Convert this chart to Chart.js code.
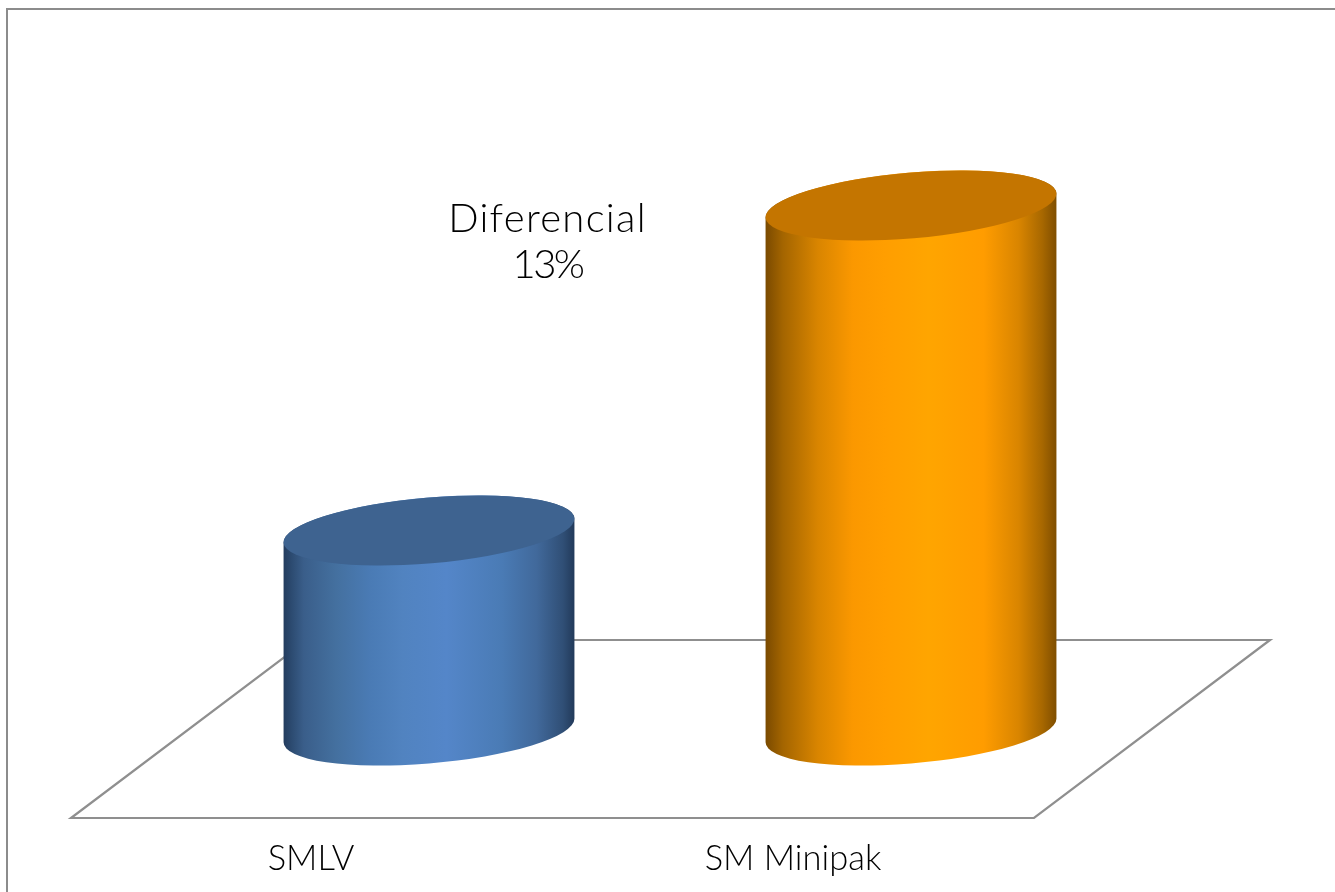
<!DOCTYPE html>
<html>
<head>
<meta charset="utf-8">
<style>
html,body{margin:0;padding:0;background:#fff;overflow:hidden;width:1335px;height:892px}
#frame{position:absolute;left:6px;top:8px;width:1327px;height:900px;border:2px solid #8c8c8c;box-sizing:content-box}
#wrap{position:absolute;left:0;top:0;width:1335px;height:892px}
</style>
<script src="https://cdn.jsdelivr.net/npm/chart.js@4"></script>
</head>
<body>
<div id="frame"></div>
<div id="wrap"><canvas id="c" width="1335" height="892"></canvas></div>
<script>
const categories = ["SMLV", "SM Minipak"];
const seriesValues = [100, 113];
const axisMin = 92;
const axisMax = 116;
const baseColors = ["#4f81bd", "#ff9c00"];
const topColors = ["#3e6390", "#c47500"];
const noteLines = ["Diferencial", "13%"];
const noteSpacing = ["1.3px", "-2.5px"];

const stops = [
  [[0,"#233c5e"],[0.03,"#2d4c72"],[0.07,"#3a5e8a"],[0.18,"#44709f"],[0.3,"#4a7bb5"],[0.41,"#5183c0"],[0.56,"#5486c9"],[0.75,"#4a7bb5"],[0.87,"#41699b"],[0.96,"#304f76"],[1,"#223a5a"]],
  [[0,"#7a4a00"],[0.06,"#a46500"],[0.18,"#d98500"],[0.3,"#fb9800"],[0.41,"#ff9e00"],[0.56,"#ffa500"],[0.75,"#ff9c00"],[0.87,"#d98500"],[0.95,"#a86800"],[1,"#7f4e00"]]
];
const FONT = "Lato";
const tilt = -4.9 * Math.PI / 180;

const cylinders = {
  id: "cylinders",
  beforeDatasetsDraw(chart) {
    const ctx = chart.ctx, base = chart.scales.y.getPixelForValue(axisMin);
    ctx.save();
    ctx.strokeStyle = "#8f8f8f"; ctx.lineWidth = 2.2; ctx.lineJoin = "miter";
    ctx.beginPath();
    ctx.moveTo(71, base + 87.5);
    ctx.lineTo(1034, base + 87.5);
    ctx.lineTo(1270, base - 90.5);
    ctx.lineTo(307, base - 90.5);
    ctx.closePath();
    ctx.stroke();
    ctx.restore();
  },
  beforeDatasetDraw(chart, args) {
    const ctx = chart.ctx;
    args.meta.data.forEach((el, i) => {
      const hw = el.width / 2, a = hw * 1.003, b = hw * 0.226;
      const t0 = Math.atan2(-b * Math.sin(tilt), a * Math.cos(tilt));
      const g = ctx.createLinearGradient(el.x - hw, 0, el.x + hw, 0);
      stops[i].forEach(s => g.addColorStop(s[0], s[1]));
      ctx.save();
      ctx.beginPath();
      ctx.ellipse(el.x, el.base, a, b, tilt, t0, t0 + Math.PI, false);
      ctx.ellipse(el.x, el.y, a, b, tilt, t0 + Math.PI, t0 + 2 * Math.PI, false);
      ctx.closePath();
      ctx.fillStyle = g;
      ctx.fill();
      ctx.beginPath();
      ctx.ellipse(el.x, el.y, a, b, tilt, 0, 2 * Math.PI);
      ctx.fillStyle = topColors[i];
      ctx.fill();
      ctx.restore();
    });
    return false;
  },
  afterDraw(chart) {
    const ctx = chart.ctx;
    ctx.save();
    ctx.font = "300 40px " + FONT;
    ctx.fillStyle = "#000";
    ctx.textAlign = "center";
    ctx.textBaseline = "alphabetic";
    noteLines.forEach((t, i) => {
      ctx.letterSpacing = noteSpacing[i];
      ctx.fillText(t, 547.5, 232 + i * 46);
    });
    ctx.restore();
  }
};

new Chart(document.getElementById("c"), {
  type: "bar",
  data: {
    labels: categories,
    datasets: [{
      data: seriesValues,
      base: axisMin,
      backgroundColor: baseColors,
      categoryPercentage: 1,
      barPercentage: 291 / 482
    }]
  },
  options: {
    responsive: false,
    animation: false,
    devicePixelRatio: 1,
    layout: { padding: { left: 188, right: 183, top: 130.5, bottom: 0 } },
    plugins: { legend: { display: false }, tooltip: { enabled: false }, title: { display: false } },
    scales: {
      y: { display: false, min: axisMin, max: axisMax },
      x: {
        grid: { display: false },
        border: { display: false },
        afterFit(scale) { scale.height = 161.5; },
        ticks: {
          color: "#000",
          font: { family: FONT, size: 34.5, weight: "300" },
          padding: 100,
          labelOffset: -118,
          maxRotation: 0,
          autoSkip: false
        }
      }
    }
  },
  plugins: [cylinders]
});
</script>
</body>
</html>
